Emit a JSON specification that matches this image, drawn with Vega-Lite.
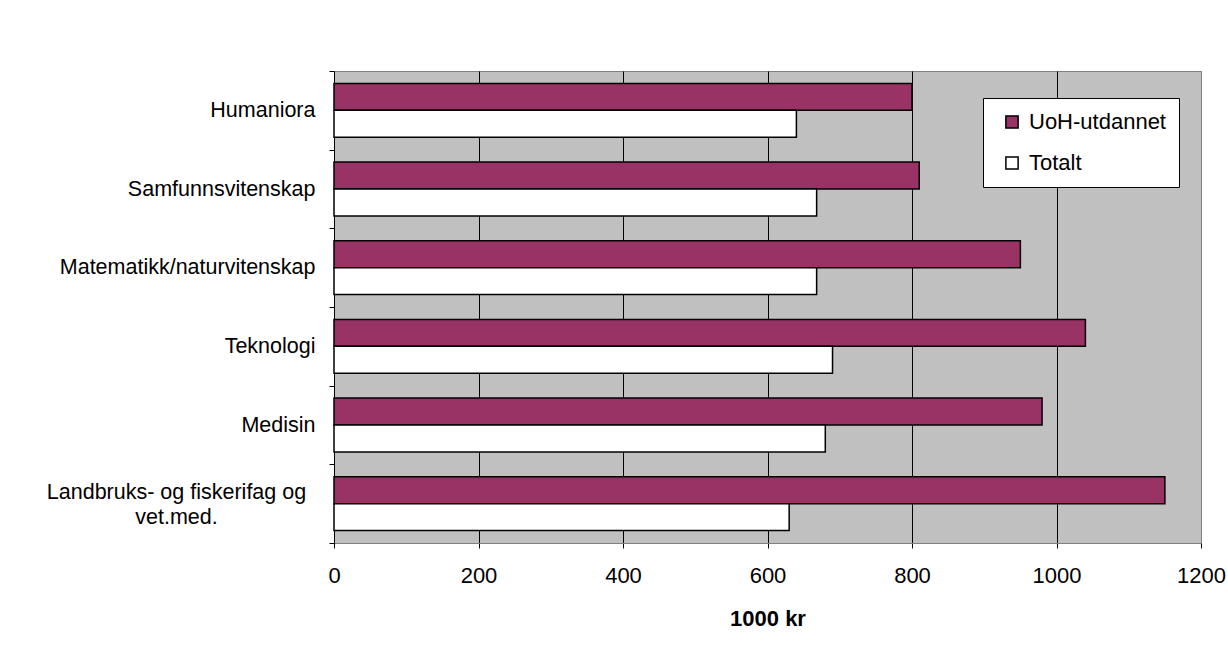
{
  "$schema": "https://vega.github.io/schema/vega-lite/v6.json",
  "width": 867,
  "height": 472,
  "autosize": {"type": "none"},
  "padding": {"left": 334, "top": 71, "right": 27, "bottom": 124},
  "background": "white",
  "config": {
    "view": {"fill": "#C0C0C0", "stroke": "#808080", "strokeWidth": 1},
    "font": "Liberation Sans"
  },
  "data": {
    "values": [
      {"fag": "Humaniora", "serie": "UoH-utdannet", "verdi": 800},
      {"fag": "Humaniora", "serie": "Totalt", "verdi": 640},
      {"fag": "Samfunnsvitenskap", "serie": "UoH-utdannet", "verdi": 810},
      {"fag": "Samfunnsvitenskap", "serie": "Totalt", "verdi": 668},
      {"fag": "Matematikk/naturvitenskap", "serie": "UoH-utdannet", "verdi": 950},
      {"fag": "Matematikk/naturvitenskap", "serie": "Totalt", "verdi": 668},
      {"fag": "Teknologi", "serie": "UoH-utdannet", "verdi": 1040},
      {"fag": "Teknologi", "serie": "Totalt", "verdi": 690},
      {"fag": "Medisin", "serie": "UoH-utdannet", "verdi": 980},
      {"fag": "Medisin", "serie": "Totalt", "verdi": 680},
      {"fag": "Landbruks- og fiskerifag og vet.med.", "serie": "UoH-utdannet", "verdi": 1150},
      {"fag": "Landbruks- og fiskerifag og vet.med.", "serie": "Totalt", "verdi": 630}
    ]
  },
  "mark": {"type": "bar", "stroke": "black", "strokeWidth": 1.5},
  "encoding": {
    "y": {
      "field": "fag",
      "type": "nominal",
      "sort": ["Humaniora", "Samfunnsvitenskap", "Matematikk/naturvitenskap", "Teknologi", "Medisin", "Landbruks- og fiskerifag og vet.med."],
      "scale": {"paddingInner": 0, "paddingOuter": 0},
      "axis": {
        "title": null,
        "tickBand": "extent",
        "grid": false,
        "domainColor": "black",
        "domainWidth": 1,
        "tickColor": "black",
        "tickSize": 5,
        "labelFont": "Liberation Sans",
        "labelFontSize": 21.5,
        "labelColor": "black",
        "labelLimit": 400,
        "labelLineHeight": 25,
        "labelPadding": {"condition": {"test": "datum.value === 'Landbruks- og fiskerifag og vet.med.'", "value": 153}, "value": 14},
        "labelAlign": {"condition": {"test": "datum.value === 'Landbruks- og fiskerifag og vet.med.'", "value": "center"}, "value": "right"},
        "labelOffset": {"condition": {"test": "datum.value === 'Landbruks- og fiskerifag og vet.med.'", "value": -11}, "value": 0},
        "labelExpr": "datum.value === 'Landbruks- og fiskerifag og vet.med.' ? ['Landbruks- og fiskerifag og', 'vet.med.'] : datum.label"
      }
    },
    "yOffset": {
      "field": "serie",
      "type": "nominal",
      "sort": ["UoH-utdannet", "Totalt"],
      "scale": {"paddingInner": 0, "paddingOuter": 0.46}
    },
    "x": {
      "field": "verdi",
      "type": "quantitative",
      "scale": {"domain": [0, 1200], "nice": false},
      "axis": {
        "title": "1000 kr",
        "titleFont": "Liberation Sans",
        "titleFontWeight": "bold",
        "titleFontSize": 22,
        "titleColor": "black",
        "titlePadding": 22,
        "values": [0, 200, 400, 600, 800, 1000, 1200],
        "format": "d",
        "grid": true,
        "gridColor": {"condition": {"test": "datum.value === 1200", "value": "#808080"}, "value": "black"},
        "gridWidth": 1,
        "gridOpacity": 1,
        "tickColor": "black",
        "tickSize": 5,
        "domainColor": "#808080",
        "labelFont": "Liberation Sans",
        "labelFontSize": 22,
        "labelColor": "black",
        "labelPadding": 17,
        "labelFlush": false
      }
    },
    "fill": {
      "field": "serie",
      "type": "nominal",
      "scale": {"domain": ["UoH-utdannet", "Totalt"], "range": ["#993366", "#FFFFFF"]},
      "legend": {
        "orient": "none",
        "legendX": 649,
        "legendY": 27,
        "title": null,
        "fillColor": "white",
        "strokeColor": "black",
        "padding": 13,
        "symbolType": "square",
        "symbolSize": 150,
        "symbolStrokeColor": "black",
        "symbolStrokeWidth": 1.5,
        "symbolOffset": 5,
        "labelFont": "Liberation Sans",
        "labelFontSize": 22,
        "labelColor": "black",
        "labelOffset": 6,
        "rowPadding": 19
      }
    }
  }
}
